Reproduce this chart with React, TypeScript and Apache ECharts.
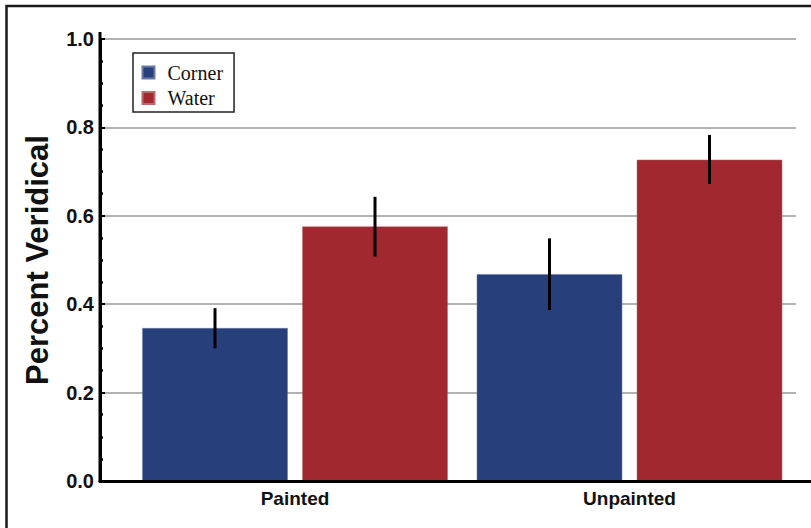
import React, { useEffect, useRef } from "react";
import * as echarts from "echarts";

const categories = ["Painted", "Unpainted"];
const seriesNames = ["Corner", "Water"];
const cornerValues = [0.346, 0.468];
const waterValues = [0.576, 0.727];
const cornerErrLow = [0.3, 0.387];
const cornerErrHigh = [0.391, 0.549];
const waterErrLow = [0.508, 0.672];
const waterErrHigh = [0.643, 0.783];
const yMin = 0;
const yMax = 1.0;
const yStep = 0.2;

const BLUE = "#27407b";
const RED = "#a0282e";

export default function App() {
  const ref = useRef<HTMLDivElement>(null);
  useEffect(() => {
    const chart = echarts.init(ref.current!, null, { renderer: "svg" });
    const BAR_W = 145.5;
    const GAP = 14.5;
    const off = (BAR_W + GAP) / 2;
    const errSeries = (name: string, lows: number[], highs: number[], sign: number) => ({
      type: "custom",
      name: name + " error",
      xAxisIndex: 2,
      yAxisIndex: 2,
      z: 5,
      silent: true,
      data: categories.map((_, i) => [i, lows[i], highs[i]]),
      encode: { x: 0, y: [1, 2] },
      renderItem: (params: any, api: any) => {
        const p1 = api.coord([api.value(0), api.value(1)]);
        const p2 = api.coord([api.value(0), api.value(2)]);
        return {
          type: "line",
          shape: { x1: p1[0] + sign * off, y1: p1[1], x2: p2[0] + sign * off, y2: p2[1] },
          style: { stroke: "#000", lineWidth: 3 },
        };
      },
    });
    const font = "'Liberation Sans', Arial, Helvetica, sans-serif";
    chart.setOption({
      animation: false,
      backgroundColor: "#fff",
      grid: [
        { left: 100, right: 0, top: 39, bottom: 47 },
        { left: 100, right: 15, top: 39, bottom: 47 },
        { left: 127.75, right: 14.25, top: 39, bottom: 47 },
      ],
      legend: {
        data: seriesNames,
        orient: "vertical",
        left: 133,
        top: 53,
        icon: "rect",
        itemWidth: 12,
        itemHeight: 12,
        itemGap: 5.5,
        padding: [9.5, 11, 4, 8.5],
        backgroundColor: "#fff",
        borderColor: "#222",
        borderWidth: 1.5,
        borderRadius: 0,
        textStyle: {
          fontFamily: "'Liberation Serif', 'Times New Roman', serif",
          fontSize: 20,
          color: "#111",
          padding: [0, 0, 0, 8],
        },
      },
      xAxis: [
        {
          gridIndex: 0,
          type: "value",
          min: 0,
          max: 1,
          z: 10,
          axisLine: { show: true, lineStyle: { color: "#000", width: 3 } },
          axisTick: { show: false },
          axisLabel: { show: false },
          splitLine: { show: false },
        },
        {
          gridIndex: 1,
          type: "value",
          min: 0,
          max: 1,
          show: false,
        },
        {
          gridIndex: 2,
          type: "category",
          data: categories,
          axisLine: { show: false },
          axisTick: { show: false },
          axisLabel: {
            margin: 8,
            fontFamily: font,
            fontWeight: "bold",
            fontSize: 19,
            color: "#111",
          },
        },
      ],
      yAxis: [
        {
          gridIndex: 0,
          type: "value",
          min: yMin,
          max: yMax,
          interval: yStep,
          z: 10,
          name: "Percent Veridical",
          nameLocation: "middle",
          nameGap: 47,
          nameTextStyle: {
            fontFamily: font,
            fontWeight: "bold",
            fontSize: 31,
            color: "#111",
          },
          axisLine: { show: true, lineStyle: { color: "#000", width: 3 } },
          axisTick: { show: true, inside: true, length: 5, lineStyle: { color: "#000", width: 2 } },
          minorTick: { show: true, splitNumber: 4, length: 3, lineStyle: { color: "#000", width: 2.5 } },
          axisLabel: {
            margin: 6,
            fontFamily: font,
            fontWeight: "bold",
            fontSize: 20,
            color: "#111",
            formatter: (v: number) => v.toFixed(1),
          },
          splitLine: { show: false },
        },
        {
          gridIndex: 1,
          type: "value",
          min: yMin,
          max: yMax,
          interval: yStep,
          axisLine: { show: false },
          axisTick: { show: false },
          axisLabel: { show: false },
          splitLine: { show: true, lineStyle: { color: "#999", width: 1.5 } },
        },
        {
          gridIndex: 2,
          type: "value",
          min: yMin,
          max: yMax,
          show: false,
        },
      ],
      series: [
        {
          type: "bar",
          name: seriesNames[0],
          xAxisIndex: 2,
          yAxisIndex: 2,
          data: cornerValues,
          barWidth: BAR_W,
          barGap: ((GAP / BAR_W) * 100).toFixed(2) + "%",
          itemStyle: { color: BLUE, borderColor: "#6a7aa0", borderWidth: 0.5 },
        },
        {
          type: "bar",
          name: seriesNames[1],
          xAxisIndex: 2,
          yAxisIndex: 2,
          data: waterValues,
          barWidth: BAR_W,
          barGap: ((GAP / BAR_W) * 100).toFixed(2) + "%",
          itemStyle: { color: RED, borderColor: "#b86a6e", borderWidth: 0.5 },
        },
        errSeries("Corner", cornerErrLow, cornerErrHigh, -1),
        errSeries("Water", waterErrLow, waterErrHigh, 1),
      ],
      graphic: [
        {
          type: "rect",
          z: 100,
          shape: { x: 6.5, y: 6, width: 900, height: 700 },
          style: { fill: "none", stroke: "#1a1a1a", lineWidth: 2.5 },
        },
        {
          type: "line",
          z: 100,
          shape: { x1: 100, y1: 32, x2: 100, y2: 482 },
          style: { stroke: "#000", lineWidth: 3 },
        },
      ],
    });
    return () => chart.dispose();
  }, []);
  return (
    <div
      ref={ref}
      style={{ position: "absolute", left: 0, top: 0, width: 811, height: 528 }}
    />
  );
}
